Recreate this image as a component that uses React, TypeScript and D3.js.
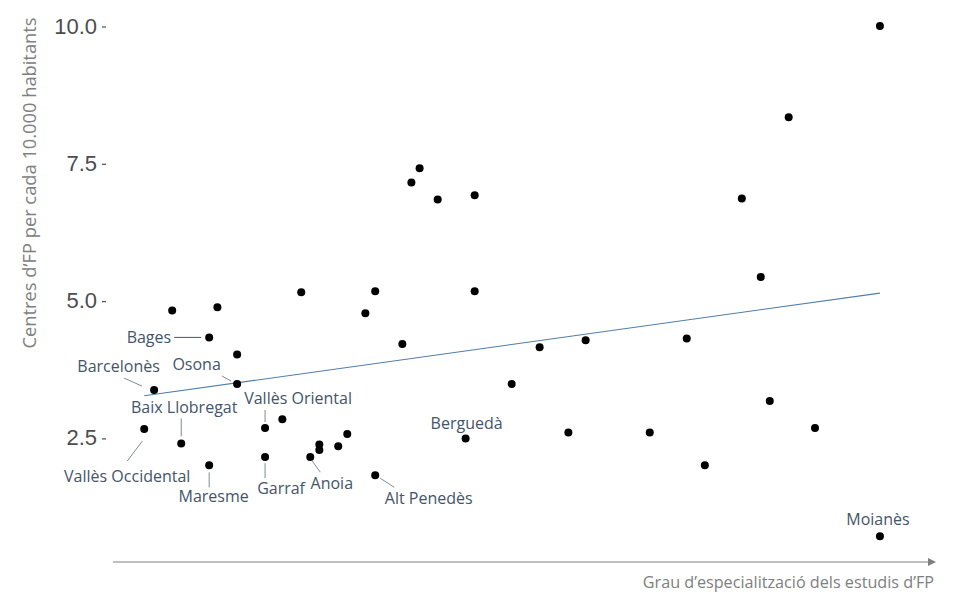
import React from "react";
import * as d3 from "d3";

// Data (x: degree of specialisation, arbitrary 0-100 scale; y: centres per 10,000 inhabitants)
const xValues = [93.3, 82.2, 76.5, 78.8, 37.3, 36.3, 39.5, 44.0, 7.2, 12.7, 22.9, 31.9, 30.7, 44.0, 11.7, 15.1, 35.2, 15.1, 5.0, 51.9, 57.5, 69.8, 48.5, 79.9, 18.5, 20.6, 3.8, 8.3, 25.1, 25.1, 27.4, 28.5, 42.9, 55.4, 65.3, 85.4, 18.5, 24.0, 11.7, 31.9, 72.0, 93.3];
const yValues = [10.0, 8.34, 6.86, 5.43, 7.41, 7.15, 6.84, 6.92, 4.82, 4.88, 5.15, 5.17, 4.77, 5.17, 4.33, 4.02, 4.21, 3.48, 3.37, 4.15, 4.28, 4.31, 3.48, 3.17, 2.68, 2.84, 2.66, 2.40, 2.38, 2.28, 2.35, 2.57, 2.49, 2.60, 2.60, 2.68, 2.15, 2.15, 2.00, 1.82, 2.00, 0.71];
const comarques = ["", "", "", "", "", "", "", "", "", "", "", "", "", "", "Bages", "", "", "Osona", "Barcelonès", "", "", "", "", "", "Vallès Oriental", "", "Vallès Occidental", "Baix Llobregat", "", "", "", "", "Berguedà", "", "", "", "Garraf", "Anoia", "Maresme", "Alt Penedès", "", "Moianès"];
const yTicks = [2.5, 5.0, 7.5, 10.0];
const yTitle = "Centres d\u2019FP per cada 10.000 habitants";
const xTitle = "Grau d\u2019especialització dels estudis d\u2019FP";

// Label layout (pixel offsets relative to the point): text centre and leader line
const labelLayout: Record<string, { dx: number; dy: number; line?: [number, number, number, number]; anchor?: string }> = {
  "Bages": { dx: -38, dy: 0, line: [-35, 0, -8, 0], anchor: "end" },
  "Barcelonès": { dx: -35.5, dy: -24, line: [-30, -12, -12, -4] },
  "Osona": { dx: -40.5, dy: -20, line: [-15, -8, -6, -3] },
  "Baix Llobregat": { dx: 3, dy: -36, line: [0, -25, 0, -7] },
  "Vallès Occidental": { dx: -17, dy: 47, line: [-2, 12, -17, 32] },
  "Maresme": { dx: 4.5, dy: 31, line: [0, 7, 0, 22] },
  "Vallès Oriental": { dx: 33, dy: -30, line: [0, -18, 0, -6] },
  "Garraf": { dx: 16, dy: 31, line: [0, 6, 0, 21] },
  "Anoia": { dx: 21.5, dy: 26, line: [2, 4, 10, 15] },
  "Alt Penedès": { dx: 53.5, dy: 23, line: [5, 3, 19, 12] },
  "Berguedà": { dx: 1, dy: -15 },
  "Moianès": { dx: -2, dy: -17 },
};

const W = 960;
const H = 596;

export default function App() {
  const x = d3.scaleLinear().domain([0, 100]).range([113, 935]);
  const y = d3.scaleLinear().domain([0, 10]).range([575.2, 26]);

  const pts = xValues.map((v, i) => ({ x: v, y: yValues[i], name: comarques[i] }));

  // least-squares fit
  const mx = d3.mean(xValues) as number;
  const my = d3.mean(yValues) as number;
  let num = 0;
  let den = 0;
  xValues.forEach((v, i) => {
    num += (v - mx) * (yValues[i] - my);
    den += (v - mx) * (v - mx);
  });
  const slope = num / den;
  const intercept = my - slope * mx;
  const [x0, x1] = d3.extent(xValues) as [number, number];
  const line = d3.line<[number, number]>().x((d) => x(d[0])).y((d) => y(d[1]));
  const fit: [number, number][] = [
    [x0, intercept + slope * x0],
    [x1, intercept + slope * x1],
  ];

  const labelFont = "'Open Sans', 'DejaVu Sans', sans-serif";
  const labelColor = "#44546a";

  return (
    <svg width={W} height={H} style={{ position: "absolute", left: 0, top: 0, background: "#fff" }}>
      {/* y title */}
      <text
        transform={`translate(28,${183}) rotate(-90)`}
        textAnchor="middle"
        dominantBaseline="central"
        fontFamily={labelFont}
        fontSize={18.3}
        fill="#808080"
      >
        {yTitle}
      </text>
      {/* y ticks */}
      {yTicks.map((t) => (
        <g key={t} transform={`translate(0,${y(t)})`}>
          <text
            x={97}
            textAnchor="end"
            dominantBaseline="central"
            fontFamily="'Liberation Sans', Arial, sans-serif"
            fontSize={22}
            fill="#4d4d4d"
          >
            {t.toFixed(1)}
          </text>
          <line x1={102} x2={106} y1={1} y2={1} stroke="#4d4d4d" strokeWidth={1.2} />
        </g>
      ))}
      {/* x axis arrow */}
      <line x1={113} x2={929} y1={562} y2={562} stroke="#808080" strokeWidth={1.2} />
      <path d="M928,558 L936,562 L928,566 Z" fill="#808080" />
      <text x={934} y={582} textAnchor="end" dominantBaseline="central" fontFamily={labelFont} fontSize={16.2} fill="#808080">
        {xTitle}
      </text>
      {/* regression line */}
      <path d={line(fit) as string} fill="none" stroke="#4f7ea8" strokeWidth={1.1} />
      {/* points */}
      {pts.map((p, i) => (
        <circle key={i} cx={x(p.x)} cy={y(p.y)} r={4} fill="#000" />
      ))}
      {/* labels */}
      {pts
        .filter((p) => p.name)
        .map((p) => {
          const L = labelLayout[p.name];
          const cx = x(p.x);
          const cy = y(p.y);
          return (
            <g key={p.name}>
              {L.line && (
                <line
                  x1={cx + L.line[0]}
                  y1={cy + L.line[1]}
                  x2={cx + L.line[2]}
                  y2={cy + L.line[3]}
                  stroke={p.name === "Bages" ? "#44546a" : "#7f8a96"}
                  strokeWidth={1}
                />
              )}
              <text
                x={cx + L.dx}
                y={cy + L.dy}
                textAnchor={L.anchor || "middle"}
                dominantBaseline="central"
                fontFamily={labelFont}
                fontSize={16}
                fill={labelColor}
              >
                {p.name}
              </text>
            </g>
          );
        })}
    </svg>
  );
}
